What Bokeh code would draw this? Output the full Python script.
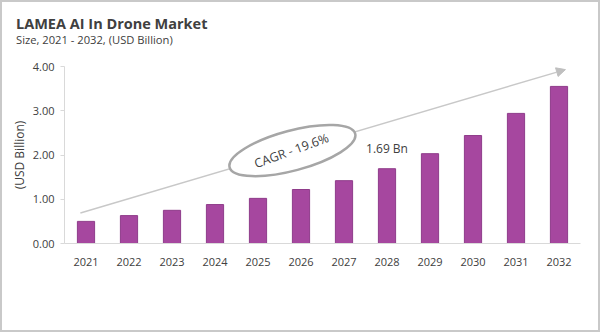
from bokeh.plotting import figure
from bokeh.models import (Range1d, FixedTicker, NumeralTickFormatter, Label, Arrow,
                          NormalHead, ColumnDataSource, Div)
from bokeh.layouts import column
from bokeh.embed import file_html
from bokeh.resources import INLINE
import math

years = ["2021", "2022", "2023", "2024", "2025", "2026", "2027", "2028", "2029", "2030", "2031", "2032"]
values = [0.50, 0.63, 0.75, 0.88, 1.02, 1.22, 1.42, 1.69, 2.03, 2.44, 2.94, 3.55]
y_ticks = [0, 1, 2, 3, 4]
title_text = "LAMEA AI In Drone Market"
subtitle_text = "Size, 2021 - 2032, (USD Billion)"
y_label = "(USD Billion)"
cagr_text = "CAGR - 19.6%"
highlight_year = "2028"
highlight_text = "1.69 Bn"

FONT = "Open Sans"
TXT = "#404040"

xs = list(range(len(years)))
src = ColumnDataSource(dict(x=xs, top=values))

p = figure(width=596, height=280, output_backend="svg", toolbar_location=None,
           title_location=None,
           x_range=Range1d(-0.5, len(years) - 0.5), y_range=Range1d(0, 4),
           min_border_left=62, min_border_top=16, min_border_bottom=87, min_border_right=18,
           margin=0)
p.outline_line_color = None
p.xgrid.grid_line_color = None
p.ygrid.grid_line_color = None
p.background_fill_color = "white"
p.border_fill_color = "white"

p.vbar(x="x", top="top", width=0.4, source=src, fill_color="#A6479F",
       line_color="#8F3C8A", line_width=1)

# x axis
p.xaxis.ticker = FixedTicker(ticks=xs)
p.xaxis.major_label_overrides = {i: y for i, y in enumerate(years)}
p.xaxis.axis_line_color = "#D9D9D9"
p.xaxis.major_tick_line_color = None
p.xaxis.minor_tick_line_color = None
p.xaxis.major_label_text_font = FONT
p.xaxis.major_label_text_font_size = "11px"
p.xaxis.major_label_text_color = TXT
p.xaxis.major_label_standoff = 8

# y axis
p.yaxis.ticker = FixedTicker(ticks=y_ticks)
p.yaxis.formatter = NumeralTickFormatter(format="0.00")
p.yaxis.axis_line_color = "#D9D9D9"
p.yaxis.major_tick_line_color = "#D9D9D9"
p.yaxis.major_tick_in = 0
p.yaxis.major_tick_out = 4
p.yaxis.minor_tick_line_color = None
p.yaxis.major_label_text_font = FONT
p.yaxis.major_label_text_font_size = "11px"
p.yaxis.major_label_text_color = TXT
p.yaxis.major_label_standoff = 6
p.yaxis.axis_label = y_label
p.yaxis.axis_label_text_font = FONT
p.yaxis.axis_label_text_font_size = "12px"
p.yaxis.axis_label_text_font_style = "normal"
p.yaxis.axis_label_text_color = TXT
p.yaxis.axis_label_standoff = 2

# trend arrow
arrow = Arrow(end=NormalHead(size=9, fill_color="#BFBFBF", line_color="#BFBFBF"),
              x_start=-0.13, y_start=0.69, x_end=11.15, y_end=3.93,
              line_color="#C8C8C8", line_width=1.5, level="underlay")
p.add_layout(arrow)

# CAGR ellipse
p.ellipse(x=[4.8], y=[2.1], width=[130], height=[40], angle=[math.radians(15)],
          width_units="screen", height_units="screen",
          fill_color="white", line_color="#A6A6A6", line_width=2.5)
p.add_layout(Label(x=4.78, y=2.1, text=cagr_text, angle=math.radians(20),
                   text_align="center", text_baseline="middle",
                   text_font=FONT, text_font_size="12.5px", text_color=TXT))

hi = years.index(highlight_year)
p.add_layout(Label(x=hi, y=values[hi], y_offset=12, text=highlight_text,
                   text_align="center", text_baseline="bottom",
                   text_font=FONT, text_font_size="12px", text_color=TXT))

# title block
head = Div(text=(
    f'<div style="font-family:\'Open Sans\';color:{TXT};padding-left:14px;margin:0;">'
    f'<div style="font-size:14.5px;font-weight:bold;line-height:18px;margin-top:13px;white-space:nowrap;">{title_text}</div>'
    f'<div style="font-size:11.2px;line-height:16px;margin-top:-1px;white-space:nowrap;">{subtitle_text}</div>'
    '</div>'),
    width=596, height=48, margin=0, styles={"background-color": "white"})

layout = column(head, p, spacing=0, margin=0,
                styles={"border": "2px solid #C9C9C9", "background-color": "white"})

open("out.html", "w").write(file_html(layout, INLINE))
